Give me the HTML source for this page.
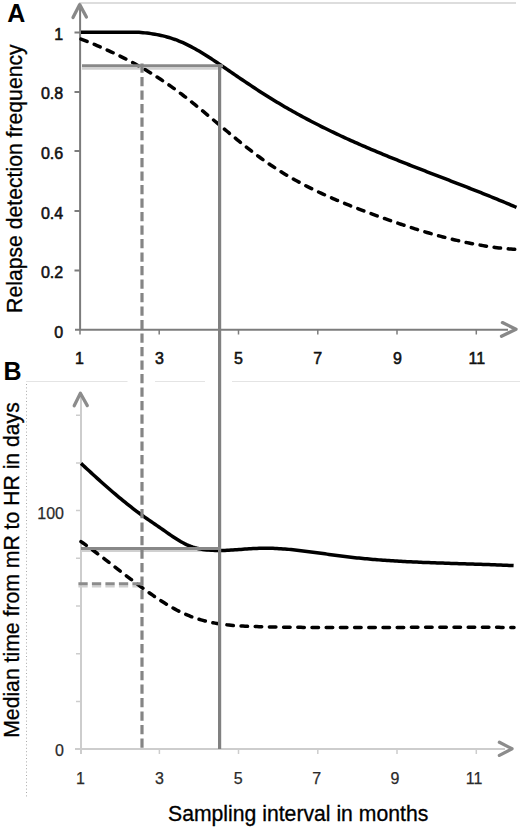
<!DOCTYPE html>
<html><head><meta charset="utf-8"><style>
html,body{margin:0;padding:0;background:#fff;width:520px;height:829px;overflow:hidden}
svg{display:block}
text{font-family:"Liberation Sans",sans-serif}
</style></head><body>
<svg width="520" height="829" viewBox="0 0 520 829">
<line x1="79" y1="3" x2="516" y2="3" stroke="#d2d2d2" stroke-width="1.5"/>
<path d="M26 381.5H127.5 M155 381.5H205 M232 381.5H520" stroke="#e4e4e4" stroke-width="1.2" fill="none"/>
<line x1="26.5" y1="384" x2="26.5" y2="797" stroke="#aaa" stroke-width="1" stroke-dasharray="1 2.4"/>

<g stroke="#7c7c7c" stroke-width="2" fill="none">
<line x1="80.1" y1="5" x2="80.1" y2="330"/>
<line x1="75" y1="329.8" x2="508" y2="329.8"/>
<path d="M74.5 32.5H80 M74.5 92H80 M74.5 151H80 M74.5 211H80 M74.5 270.5H80"/>
<path d="M80 329.5V334.5 M159.2 329.5V334.5 M238.5 329.5V334.5 M317.8 329.5V334.5 M397 329.5V334.5 M476.3 329.5V334.5" stroke-width="1.5"/>
</g>
<g stroke="#888" stroke-width="3.3" fill="none" stroke-linecap="round" stroke-linejoin="round">
<path d="M73 17.6 L79.7 4.6 L86.4 17"/>
<path d="M502.4 322.6 L516 329.2 L501.5 336.2"/>
</g>

<g stroke="#cdcdcd" stroke-width="2" fill="none">
<line x1="81" y1="395" x2="81" y2="754"/>
<line x1="75" y1="748.9" x2="505" y2="748.9"/>
<path d="M76 415.2H80 M76 462.9H80 M76 510.6H80 M76 558.3H80 M76 606H80 M76 653.7H80 M76 701.4H80" stroke-width="1.5"/>
<path d="M159.4 749V754 M238.5 749V754 M317.8 749V754 M397 749V754 M476.3 749V754" stroke-width="1.5"/>
</g>
<g stroke="#8c8c8c" stroke-width="3.3" fill="none" stroke-linecap="round" stroke-linejoin="round">
<path d="M74.2 405.8 L80.4 393.3 L87.3 405.6"/>
<path d="M499.4 742.3 L512 748.8 L499.4 755.4"/>
</g>


<g fill="none">
<line x1="82" y1="68.6" x2="222" y2="68.6" stroke="#d0d0d0" stroke-width="2.4"/>
<line x1="81" y1="551" x2="219" y2="551" stroke="#d0d0d0" stroke-width="2.2"/>
<line x1="78.4" y1="586.4" x2="142" y2="586.4" stroke="#d0d0d0" stroke-width="2.2" stroke-dasharray="9.3 4.2"/>
</g>
<g fill="none" stroke="#000" stroke-width="3.5">
<path d="M81.0 32.30 L83.0 32.30 L85.0 32.30 L87.0 32.30 L89.0 32.30 L91.0 32.30 L93.0 32.30 L95.0 32.30 L97.0 32.30 L99.0 32.30 L101.0 32.30 L103.0 32.30 L105.0 32.30 L107.0 32.30 L109.0 32.30 L111.0 32.30 L113.0 32.30 L115.0 32.30 L117.0 32.30 L119.0 32.30 L121.0 32.30 L123.0 32.30 L125.0 32.30 L127.0 32.30 L129.0 32.26 L131.0 32.20 L133.0 32.17 L135.0 32.18 L137.0 32.24 L139.0 32.36 L141.0 32.51 L143.0 32.68 L145.0 32.88 L147.0 33.10 L149.0 33.35 L151.0 33.62 L153.0 33.93 L155.0 34.26 L157.0 34.62 L159.0 35.02 L161.0 35.45 L163.0 35.91 L165.0 36.41 L167.0 36.95 L169.0 37.52 L171.0 38.13 L173.0 38.79 L175.0 39.48 L177.0 40.22 L179.0 41.01 L181.0 41.83 L183.0 42.71 L185.0 43.62 L187.0 44.58 L189.0 45.58 L191.0 46.61 L193.0 47.68 L195.0 48.78 L197.0 49.91 L199.0 51.08 L201.0 52.27 L203.0 53.48 L205.0 54.72 L207.0 55.99 L209.0 57.27 L211.0 58.57 L213.0 59.88 L215.0 61.21 L217.0 62.56 L219.0 63.91 L221.0 65.27 L223.0 66.64 L225.0 68.01 L227.0 69.38 L229.0 70.76 L231.0 72.13 L233.0 73.50 L235.0 74.87 L237.0 76.24 L239.0 77.60 L241.0 78.95 L243.0 80.31 L245.0 81.65 L247.0 83.00 L249.0 84.33 L251.0 85.66 L253.0 86.98 L255.0 88.30 L257.0 89.61 L259.0 90.91 L261.0 92.20 L263.0 93.48 L265.0 94.75 L267.0 96.01 L269.0 97.26 L271.0 98.51 L273.0 99.74 L275.0 100.96 L277.0 102.16 L279.0 103.36 L281.0 104.55 L283.0 105.73 L285.0 106.89 L287.0 108.05 L289.0 109.20 L291.0 110.34 L293.0 111.46 L295.0 112.58 L297.0 113.69 L299.0 114.79 L301.0 115.88 L303.0 116.96 L305.0 118.04 L307.0 119.10 L309.0 120.15 L311.0 121.20 L313.0 122.24 L315.0 123.27 L317.0 124.29 L319.0 125.31 L321.0 126.31 L323.0 127.31 L325.0 128.30 L327.0 129.28 L329.0 130.26 L331.0 131.23 L333.0 132.19 L335.0 133.14 L337.0 134.09 L339.0 135.03 L341.0 135.97 L343.0 136.90 L345.0 137.82 L347.0 138.73 L349.0 139.64 L351.0 140.55 L353.0 141.44 L355.0 142.34 L357.0 143.22 L359.0 144.10 L361.0 144.98 L363.0 145.85 L365.0 146.72 L367.0 147.58 L369.0 148.43 L371.0 149.28 L373.0 150.13 L375.0 150.97 L377.0 151.81 L379.0 152.65 L381.0 153.48 L383.0 154.30 L385.0 155.13 L387.0 155.94 L389.0 156.76 L391.0 157.57 L393.0 158.38 L395.0 159.19 L397.0 159.99 L399.0 160.79 L401.0 161.59 L403.0 162.38 L405.0 163.17 L407.0 163.96 L409.0 164.75 L411.0 165.54 L413.0 166.32 L415.0 167.10 L417.0 167.88 L419.0 168.66 L421.0 169.44 L423.0 170.21 L425.0 170.99 L427.0 171.76 L429.0 172.54 L431.0 173.31 L433.0 174.08 L435.0 174.85 L437.0 175.62 L439.0 176.39 L441.0 177.16 L443.0 177.93 L445.0 178.70 L447.0 179.47 L449.0 180.24 L451.0 181.01 L453.0 181.79 L455.0 182.56 L457.0 183.33 L459.0 184.11 L461.0 184.88 L463.0 185.66 L465.0 186.44 L467.0 187.22 L469.0 188.00 L471.0 188.79 L473.0 189.57 L475.0 190.36 L477.0 191.15 L479.0 191.94 L481.0 192.73 L483.0 193.53 L485.0 194.33 L487.0 195.13 L489.0 195.94 L491.0 196.75 L493.0 197.56 L495.0 198.38 L497.0 199.19 L499.0 200.02 L501.0 200.84 L503.0 201.67 L505.0 202.51 L507.0 203.34 L509.0 204.19 L511.0 205.03 L513.0 205.89 L515.0 206.74 L516.5 207.39"/>
<path d="M81.0 39.11 L83.0 39.88 L85.0 40.67 L87.0 41.46 L89.0 42.26 L91.0 43.08 L93.0 43.90 L95.0 44.73 L97.0 45.58 L99.0 46.43 L101.0 47.30 L103.0 48.17 L105.0 49.06 L107.0 49.96 L109.0 50.87 L111.0 51.79 L113.0 52.73 L115.0 53.68 L117.0 54.64 L119.0 55.61 L121.0 56.60 L123.0 57.60 L125.0 58.62 L127.0 59.65 L129.0 60.69 L131.0 61.75 L133.0 62.82 L135.0 63.91 L137.0 65.02 L139.0 66.14 L141.0 67.27 L143.0 68.42 L145.0 69.59 L147.0 70.78 L149.0 71.98 L151.0 73.20 L153.0 74.44 L155.0 75.69 L157.0 76.96 L159.0 78.25 L161.0 79.56 L163.0 80.89 L165.0 82.24 L167.0 83.60 L169.0 84.99 L171.0 86.39 L173.0 87.82 L175.0 89.26 L177.0 90.73 L179.0 92.21 L181.0 93.72 L183.0 95.24 L185.0 96.78 L187.0 98.33 L189.0 99.90 L191.0 101.48 L193.0 103.08 L195.0 104.69 L197.0 106.31 L199.0 107.94 L201.0 109.58 L203.0 111.22 L205.0 112.88 L207.0 114.54 L209.0 116.20 L211.0 117.87 L213.0 119.55 L215.0 121.22 L217.0 122.90 L219.0 124.58 L221.0 126.25 L223.0 127.93 L225.0 129.60 L227.0 131.27 L229.0 132.94 L231.0 134.60 L233.0 136.26 L235.0 137.90 L237.0 139.54 L239.0 141.17 L241.0 142.79 L243.0 144.40 L245.0 146.00 L247.0 147.58 L249.0 149.15 L251.0 150.71 L253.0 152.25 L255.0 153.77 L257.0 155.27 L259.0 156.76 L261.0 158.23 L263.0 159.67 L265.0 161.10 L267.0 162.50 L269.0 163.88 L271.0 165.23 L273.0 166.57 L275.0 167.88 L277.0 169.18 L279.0 170.45 L281.0 171.70 L283.0 172.94 L285.0 174.15 L287.0 175.35 L289.0 176.52 L291.0 177.68 L293.0 178.82 L295.0 179.95 L297.0 181.05 L299.0 182.14 L301.0 183.22 L303.0 184.28 L305.0 185.32 L307.0 186.35 L309.0 187.36 L311.0 188.37 L313.0 189.35 L315.0 190.33 L317.0 191.29 L319.0 192.24 L321.0 193.17 L323.0 194.10 L325.0 195.01 L327.0 195.91 L329.0 196.81 L331.0 197.69 L333.0 198.56 L335.0 199.42 L337.0 200.28 L339.0 201.12 L341.0 201.96 L343.0 202.78 L345.0 203.60 L347.0 204.41 L349.0 205.22 L351.0 206.01 L353.0 206.80 L355.0 207.59 L357.0 208.36 L359.0 209.13 L361.0 209.90 L363.0 210.65 L365.0 211.41 L367.0 212.16 L369.0 212.90 L371.0 213.64 L373.0 214.37 L375.0 215.10 L377.0 215.83 L379.0 216.55 L381.0 217.27 L383.0 217.99 L385.0 218.70 L387.0 219.41 L389.0 220.11 L391.0 220.81 L393.0 221.50 L395.0 222.19 L397.0 222.88 L399.0 223.56 L401.0 224.23 L403.0 224.90 L405.0 225.56 L407.0 226.22 L409.0 226.87 L411.0 227.52 L413.0 228.16 L415.0 228.80 L417.0 229.42 L419.0 230.04 L421.0 230.66 L423.0 231.27 L425.0 231.87 L427.0 232.46 L429.0 233.05 L431.0 233.63 L433.0 234.20 L435.0 234.76 L437.0 235.32 L439.0 235.87 L441.0 236.41 L443.0 236.94 L445.0 237.46 L447.0 237.98 L449.0 238.49 L451.0 238.98 L453.0 239.47 L455.0 239.95 L457.0 240.42 L459.0 240.88 L461.0 241.33 L463.0 241.78 L465.0 242.21 L467.0 242.63 L469.0 243.04 L471.0 243.44 L473.0 243.83 L475.0 244.21 L477.0 244.58 L479.0 244.94 L481.0 245.29 L483.0 245.63 L485.0 245.95 L487.0 246.27 L489.0 246.57 L491.0 246.86 L493.0 247.14 L495.0 247.40 L497.0 247.66 L499.0 247.90 L501.0 248.13 L503.0 248.34 L505.0 248.55 L507.0 248.74 L509.0 248.92 L511.0 249.08 L513.0 249.23 L515.0 249.37 L516.8 249.48" stroke-dasharray="6.5 7.7" stroke-linecap="round"/>
<path d="M81.0 463.39 L83.0 465.25 L85.0 467.11 L87.0 468.96 L89.0 470.80 L91.0 472.64 L93.0 474.47 L95.0 476.29 L97.0 478.11 L99.0 479.91 L101.0 481.71 L103.0 483.49 L105.0 485.26 L107.0 487.03 L109.0 488.77 L111.0 490.51 L113.0 492.23 L115.0 493.94 L117.0 495.63 L119.0 497.31 L121.0 498.97 L123.0 500.61 L125.0 502.23 L127.0 503.83 L129.0 505.42 L131.0 506.98 L133.0 508.53 L135.0 510.05 L137.0 511.55 L139.0 513.02 L141.0 514.48 L143.0 515.91 L145.0 517.32 L147.0 518.72 L149.0 520.11 L151.0 521.49 L153.0 522.86 L155.0 524.24 L157.0 525.61 L159.0 527.00 L161.0 528.39 L163.0 529.78 L165.0 531.18 L167.0 532.58 L169.0 533.97 L171.0 535.34 L173.0 536.69 L175.0 538.01 L177.0 539.29 L179.0 540.53 L181.0 541.71 L183.0 542.82 L185.0 543.86 L187.0 544.82 L189.0 545.68 L191.0 546.46 L193.0 547.14 L195.0 547.74 L197.0 548.26 L199.0 548.71 L201.0 549.09 L203.0 549.42 L205.0 549.69 L207.0 549.92 L209.0 550.10 L211.0 550.24 L213.0 550.35 L215.0 550.43 L217.0 550.47 L219.0 550.49 L221.0 550.48 L223.0 550.44 L225.0 550.38 L227.0 550.31 L229.0 550.21 L231.0 550.10 L233.0 549.98 L235.0 549.85 L237.0 549.71 L239.0 549.57 L241.0 549.42 L243.0 549.27 L245.0 549.12 L247.0 548.98 L249.0 548.84 L251.0 548.71 L253.0 548.59 L255.0 548.49 L257.0 548.40 L259.0 548.32 L261.0 548.27 L263.0 548.23 L265.0 548.22 L267.0 548.23 L269.0 548.25 L271.0 548.29 L273.0 548.35 L275.0 548.43 L277.0 548.52 L279.0 548.63 L281.0 548.75 L283.0 548.89 L285.0 549.04 L287.0 549.20 L289.0 549.38 L291.0 549.57 L293.0 549.76 L295.0 549.97 L297.0 550.19 L299.0 550.41 L301.0 550.65 L303.0 550.89 L305.0 551.14 L307.0 551.39 L309.0 551.65 L311.0 551.92 L313.0 552.19 L315.0 552.46 L317.0 552.74 L319.0 553.01 L321.0 553.29 L323.0 553.57 L325.0 553.85 L327.0 554.13 L329.0 554.41 L331.0 554.69 L333.0 554.97 L335.0 555.24 L337.0 555.51 L339.0 555.77 L341.0 556.03 L343.0 556.28 L345.0 556.53 L347.0 556.77 L349.0 557.01 L351.0 557.23 L353.0 557.46 L355.0 557.67 L357.0 557.89 L359.0 558.09 L361.0 558.29 L363.0 558.49 L365.0 558.68 L367.0 558.86 L369.0 559.04 L371.0 559.22 L373.0 559.39 L375.0 559.55 L377.0 559.71 L379.0 559.87 L381.0 560.02 L383.0 560.17 L385.0 560.31 L387.0 560.45 L389.0 560.59 L391.0 560.72 L393.0 560.85 L395.0 560.97 L397.0 561.09 L399.0 561.21 L401.0 561.32 L403.0 561.43 L405.0 561.54 L407.0 561.64 L409.0 561.74 L411.0 561.84 L413.0 561.94 L415.0 562.03 L417.0 562.12 L419.0 562.21 L421.0 562.29 L423.0 562.38 L425.0 562.46 L427.0 562.54 L429.0 562.62 L431.0 562.69 L433.0 562.77 L435.0 562.84 L437.0 562.91 L439.0 562.98 L441.0 563.05 L443.0 563.12 L445.0 563.18 L447.0 563.25 L449.0 563.31 L451.0 563.38 L453.0 563.44 L455.0 563.50 L457.0 563.57 L459.0 563.63 L461.0 563.69 L463.0 563.75 L465.0 563.82 L467.0 563.88 L469.0 563.94 L471.0 564.00 L473.0 564.07 L475.0 564.13 L477.0 564.19 L479.0 564.26 L481.0 564.33 L483.0 564.39 L485.0 564.46 L487.0 564.53 L489.0 564.60 L491.0 564.67 L493.0 564.75 L495.0 564.82 L497.0 564.90 L499.0 564.98 L501.0 565.06 L503.0 565.14 L505.0 565.22 L507.0 565.31 L509.0 565.40 L511.0 565.49 L513.0 565.59 L513.6 565.62"/>
<path d="M81.0 541.61 L83.0 543.02 L85.0 544.44 L87.0 545.87 L89.0 547.32 L91.0 548.78 L93.0 550.26 L95.0 551.74 L97.0 553.24 L99.0 554.74 L101.0 556.26 L103.0 557.78 L105.0 559.31 L107.0 560.84 L109.0 562.38 L111.0 563.92 L113.0 565.46 L115.0 567.01 L117.0 568.56 L119.0 570.11 L121.0 571.65 L123.0 573.19 L125.0 574.73 L127.0 576.27 L129.0 577.80 L131.0 579.33 L133.0 580.85 L135.0 582.36 L137.0 583.86 L139.0 585.35 L141.0 586.83 L143.0 588.30 L145.0 589.76 L147.0 591.20 L149.0 592.62 L151.0 594.03 L153.0 595.42 L155.0 596.80 L157.0 598.15 L159.0 599.47 L161.0 600.78 L163.0 602.05 L165.0 603.31 L167.0 604.53 L169.0 605.72 L171.0 606.89 L173.0 608.02 L175.0 609.11 L177.0 610.18 L179.0 611.20 L181.0 612.19 L183.0 613.14 L185.0 614.05 L187.0 614.92 L189.0 615.74 L191.0 616.53 L193.0 617.27 L195.0 617.97 L197.0 618.64 L199.0 619.27 L201.0 619.87 L203.0 620.43 L205.0 620.95 L207.0 621.45 L209.0 621.91 L211.0 622.35 L213.0 622.75 L215.0 623.13 L217.0 623.48 L219.0 623.81 L221.0 624.11 L223.0 624.38 L225.0 624.64 L227.0 624.87 L229.0 625.09 L231.0 625.28 L233.0 625.46 L235.0 625.62 L237.0 625.77 L239.0 625.90 L241.0 626.02 L243.0 626.12 L245.0 626.22 L247.0 626.30 L249.0 626.38 L251.0 626.45 L253.0 626.51 L255.0 626.57 L257.0 626.62 L259.0 626.67 L261.0 626.72 L263.0 626.76 L265.0 626.80 L267.0 626.85 L269.0 626.89 L271.0 626.93 L273.0 626.97 L275.0 627.00 L277.0 627.04 L279.0 627.07 L281.0 627.10 L283.0 627.13 L285.0 627.16 L287.0 627.19 L289.0 627.22 L291.0 627.25 L293.0 627.27 L295.0 627.29 L297.0 627.32 L299.0 627.34 L301.0 627.36 L303.0 627.38 L305.0 627.39 L307.0 627.41 L309.0 627.43 L311.0 627.44 L313.0 627.46 L315.0 627.47 L317.0 627.48 L319.0 627.49 L321.0 627.50 L323.0 627.51 L325.0 627.52 L327.0 627.53 L329.0 627.53 L331.0 627.54 L333.0 627.54 L335.0 627.55 L337.0 627.55 L339.0 627.55 L341.0 627.55 L343.0 627.56 L345.0 627.56 L347.0 627.56 L349.0 627.56 L351.0 627.56 L353.0 627.55 L355.0 627.55 L357.0 627.55 L359.0 627.55 L361.0 627.54 L363.0 627.54 L365.0 627.53 L367.0 627.53 L369.0 627.52 L371.0 627.52 L373.0 627.51 L375.0 627.50 L377.0 627.50 L379.0 627.49 L381.0 627.48 L383.0 627.47 L385.0 627.47 L387.0 627.46 L389.0 627.45 L391.0 627.44 L393.0 627.43 L395.0 627.42 L397.0 627.42 L399.0 627.41 L401.0 627.40 L403.0 627.39 L405.0 627.38 L407.0 627.37 L409.0 627.36 L411.0 627.35 L413.0 627.35 L415.0 627.34 L417.0 627.33 L419.0 627.32 L421.0 627.31 L423.0 627.31 L425.0 627.30 L427.0 627.29 L429.0 627.28 L431.0 627.28 L433.0 627.27 L435.0 627.26 L437.0 627.26 L439.0 627.25 L441.0 627.25 L443.0 627.24 L445.0 627.24 L447.0 627.23 L449.0 627.23 L451.0 627.23 L453.0 627.23 L455.0 627.22 L457.0 627.22 L459.0 627.22 L461.0 627.22 L463.0 627.22 L465.0 627.22 L467.0 627.23 L469.0 627.23 L471.0 627.23 L473.0 627.24 L475.0 627.24 L477.0 627.25 L479.0 627.25 L481.0 627.26 L483.0 627.27 L485.0 627.28 L487.0 627.29 L489.0 627.30 L491.0 627.31 L493.0 627.32 L495.0 627.34 L497.0 627.35 L499.0 627.37 L501.0 627.38 L503.0 627.40 L505.0 627.42 L507.0 627.44 L509.0 627.46 L511.0 627.48 L513.0 627.51 L514.0 627.52" stroke-dasharray="6.5 7.7" stroke-linecap="round"/>
</g>

<g fill="none">
<line x1="82" y1="65.7" x2="223" y2="65.7" stroke="#888" stroke-width="3"/>
<line x1="219.6" y1="64.2" x2="219.6" y2="749" stroke="#808080" stroke-width="3.2"/>
<line x1="142" y1="63.4" x2="142" y2="749" stroke="#858585" stroke-width="3.2" stroke-dasharray="9.3 4.2"/>
<line x1="81" y1="548.6" x2="221" y2="548.6" stroke="#888" stroke-width="3"/>
<line x1="78.4" y1="583.7" x2="142" y2="583.7" stroke="#8c8c8c" stroke-width="3" stroke-dasharray="9.3 4.2"/>
</g>

<text x="7.3" y="21.5" font-size="25" font-weight="bold">A</text>
<text x="3.6" y="379.7" font-size="25" font-weight="bold">B</text>

<g font-size="16" text-anchor="end" fill="#111" stroke="#111" stroke-width="0.55">
<text x="63.2" y="40.3">1</text>
<text x="63.2" y="99.4">0.8</text>
<text x="63.2" y="158.8">0.6</text>
<text x="63.2" y="218.6">0.4</text>
<text x="63.2" y="278">0.2</text>
<text x="63.2" y="337.5">0</text>
</g>
<g font-size="16" text-anchor="middle" fill="#111" stroke="#111" stroke-width="0.55">
<text x="79.5" y="364.3">1</text>
<text x="159.4" y="364.3">3</text>
<text x="238.5" y="364.3">5</text>
<text x="317.8" y="364.3">7</text>
<text x="397.4" y="364.3">9</text>
<text x="476.8" y="364.3">11</text>
</g>

<g font-size="16" text-anchor="end" fill="#2a2a2a" stroke="#2a2a2a" stroke-width="0.25">
<text x="64" y="519">100</text>
<text x="64" y="755.7">0</text>
</g>
<g font-size="16" text-anchor="middle" fill="#2a2a2a" stroke="#2a2a2a" stroke-width="0.25">
<text x="80.4" y="783.8">1</text>
<text x="159.5" y="783.8">3</text>
<text x="238.2" y="783.8">5</text>
<text x="316.8" y="783.8">7</text>
<text x="395" y="783.8">9</text>
<text x="474" y="783.8">11</text>
</g>

<text transform="translate(21.6 312.9) rotate(-90)" font-size="21.2" fill="#000" stroke="#000" stroke-width="0.3">Relapse detection frequency</text>
<text transform="translate(19 737.8) rotate(-90)" font-size="21.2" fill="#000" stroke="#000" stroke-width="0.3">Median time from mR to HR in days</text>
<text x="168" y="821" font-size="21.2" fill="#000" stroke="#000" stroke-width="0.3">Sampling interval in months</text>
</svg>
</body></html>
